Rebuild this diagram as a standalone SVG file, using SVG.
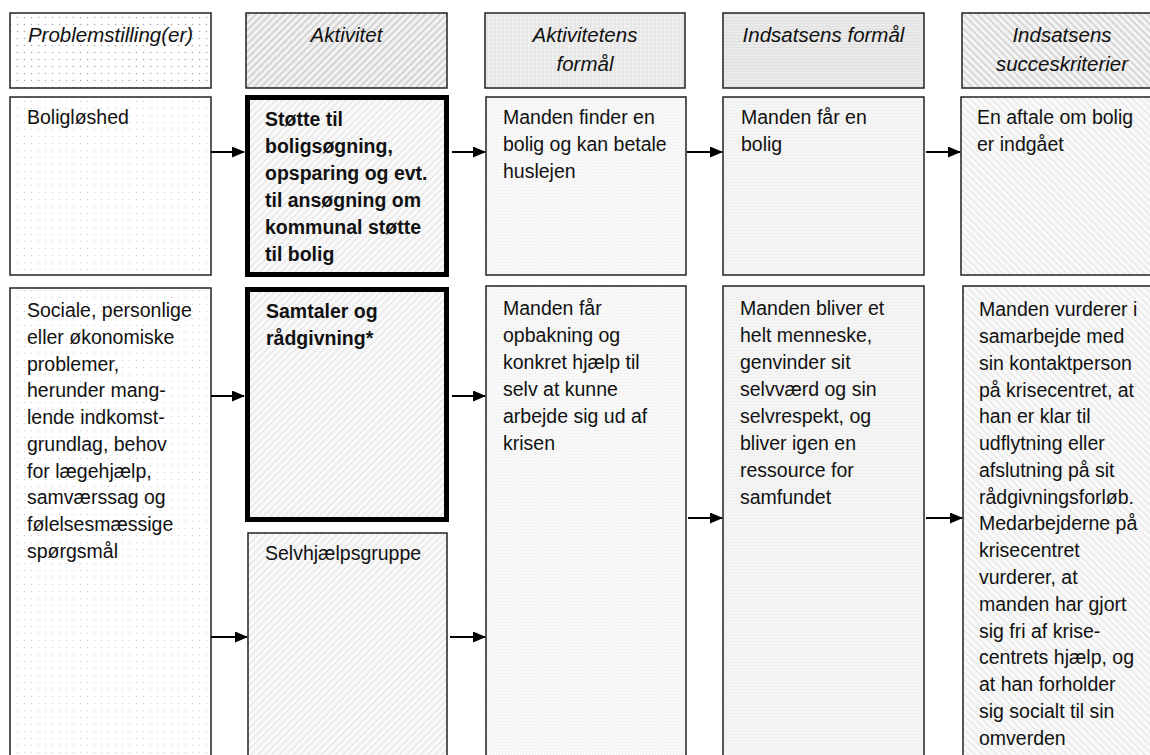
<svg xmlns="http://www.w3.org/2000/svg" width="1150" height="755" viewBox="0 0 1150 755">
<style>
.box{stroke:#222;stroke-width:1.5}
.thick{stroke:#000;stroke-width:5}
.hd{font-family:"Liberation Sans",Arial,sans-serif;font-size:20.5px;font-style:italic;fill:#111;text-anchor:middle}
.tx{font-family:"Liberation Sans",Arial,sans-serif;font-size:19.5px;fill:#111}
.bd{font-weight:bold}
.conn line{stroke:#000;stroke-width:2}
</style>
<defs>
<pattern id="dotsH" width="7" height="7" patternUnits="userSpaceOnUse"><rect width="7" height="7" fill="#fff"/><circle cx="3.5" cy="3.5" r="0.8" fill="#aaa"/></pattern>
<pattern id="dotsB" width="7" height="7" patternUnits="userSpaceOnUse"><rect width="7" height="7" fill="#fff"/><circle cx="3.5" cy="3.5" r="0.7" fill="#d4d4d4"/></pattern>
<pattern id="fwdH" width="5" height="5" patternUnits="userSpaceOnUse" patternTransform="rotate(45)"><rect width="5" height="5" fill="#f2f2f2"/><line x1="1" y1="0" x2="1" y2="5" stroke="#c4c4c4" stroke-width="1.3"/></pattern>
<pattern id="fwdB" width="5" height="5" patternUnits="userSpaceOnUse" patternTransform="rotate(45)"><rect width="5" height="5" fill="#fafafa"/><line x1="1" y1="0" x2="1" y2="5" stroke="#e2e2e2" stroke-width="1.2"/></pattern>
<pattern id="gridH" width="4" height="4" patternUnits="userSpaceOnUse"><rect width="4" height="4" fill="#e4e4e4"/><line x1="1" y1="0" x2="1" y2="4" stroke="#f6f6f6" stroke-width="1"/><line x1="0" y1="2" x2="4" y2="2" stroke="#f2f2f2" stroke-width="0.8"/></pattern>
<pattern id="gridB" width="3" height="3" patternUnits="userSpaceOnUse"><rect width="3" height="3" fill="#f8f8f8"/><rect x="1" y="1" width="1" height="1" fill="#ececec"/></pattern>
<pattern id="horH" width="4" height="3" patternUnits="userSpaceOnUse"><rect width="4" height="3" fill="#e0e0e0"/><line x1="0" y1="1" x2="4" y2="1" stroke="#f4f4f4" stroke-width="1"/></pattern>
<pattern id="horB" width="4" height="3" patternUnits="userSpaceOnUse"><rect width="4" height="3" fill="#f0f0f0"/><line x1="0" y1="1" x2="4" y2="1" stroke="#fafafa" stroke-width="1"/></pattern>
<pattern id="bakH" width="5" height="5" patternUnits="userSpaceOnUse" patternTransform="rotate(-45)"><rect width="5" height="5" fill="#f4f4f4"/><line x1="1" y1="0" x2="1" y2="5" stroke="#c8c8c8" stroke-width="1.3"/></pattern>
<pattern id="bakB" width="5" height="5" patternUnits="userSpaceOnUse" patternTransform="rotate(-45)"><rect width="5" height="5" fill="#fafafa"/><line x1="1" y1="0" x2="1" y2="5" stroke="#e4e4e4" stroke-width="1.2"/></pattern>
<marker id="ah" markerUnits="userSpaceOnUse" markerWidth="13" markerHeight="11" refX="12" refY="5.5" orient="auto"><path d="M0,0 L13,5.5 L0,11 z" fill="#000"/></marker>
</defs>
<rect width="1150" height="755" fill="#fff"/>

<g id="h1"><rect class="box" x="10" y="13" width="201" height="75" fill="url(#dotsH)"/><text class="hd" x="110.5" y="42">Problemstilling(er)</text></g>
<g id="h2"><rect class="box" x="246" y="13" width="201" height="75" fill="url(#fwdH)"/><text class="hd" x="346.5" y="42">Aktivitet</text></g>
<g id="h3"><rect class="box" x="485" y="13" width="200" height="75" fill="url(#gridH)"/><text class="hd" x="585" y="42">Aktivitetens</text><text class="hd" x="585" y="71">formål</text></g>
<g id="h4"><rect class="box" x="723" y="13" width="201" height="75" fill="url(#horH)"/><text class="hd" x="823.5" y="42">Indsatsens formål</text></g>
<g id="h5"><rect class="box" x="962" y="13" width="201" height="75" fill="url(#bakH)"/><text class="hd" x="1062" y="42">Indsatsens</text><text class="hd" x="1062" y="71">succeskriterier</text></g>

<g id="r1c1"><rect class="box" x="10" y="97" width="201" height="178" fill="url(#dotsB)"/><text class="tx" x="27" y="124">Boligløshed</text></g>
<g id="r1c2"><rect class="thick" x="247.5" y="97.5" width="199" height="177" fill="url(#fwdB)"/><text class="tx bd" x="265"><tspan x="265" y="126">Støtte til</tspan><tspan x="265" y="153">boligsøgning,</tspan><tspan x="265" y="180">opsparing og evt.</tspan><tspan x="265" y="207">til ansøgning om</tspan><tspan x="265" y="234">kommunal støtte</tspan><tspan x="265" y="261">til bolig</tspan></text></g>
<g id="r1c3"><rect class="box" x="486" y="97" width="200" height="178" fill="url(#gridB)"/><text class="tx"><tspan x="503" y="124">Manden finder en</tspan><tspan x="503" y="151">bolig og kan betale</tspan><tspan x="503" y="178">huslejen</tspan></text></g>
<g id="r1c4"><rect class="box" x="723" y="97" width="201" height="178" fill="url(#horB)"/><text class="tx"><tspan x="741" y="124">Manden får en</tspan><tspan x="741" y="151">bolig</tspan></text></g>
<g id="r1c5"><rect class="box" x="961" y="97" width="202" height="178" fill="url(#bakB)"/><text class="tx"><tspan x="977" y="124">En aftale om bolig</tspan><tspan x="977" y="151">er indgået</tspan></text></g>

<g id="r2c1"><rect class="box" x="10" y="288" width="201" height="480" fill="url(#dotsB)"/><text class="tx"><tspan x="27" y="317">Sociale, personlige</tspan><tspan x="27" y="344">eller økonomiske</tspan><tspan x="27" y="370.5">problemer,</tspan><tspan x="27" y="397">herunder mang-</tspan><tspan x="27" y="424">lende indkomst-</tspan><tspan x="27" y="451">grundlag, behov</tspan><tspan x="27" y="477.5">for lægehjælp,</tspan><tspan x="27" y="504">samværssag og</tspan><tspan x="27" y="531">følelsesmæssige</tspan><tspan x="27" y="558">spørgsmål</tspan></text></g>
<g id="r2c2"><rect class="thick" x="247.5" y="289.5" width="199" height="230" fill="url(#fwdB)"/><text class="tx bd"><tspan x="266" y="318">Samtaler og</tspan><tspan x="266" y="345">rådgivning*</tspan></text></g>
<g id="r2c2b"><rect class="box" x="248" y="533" width="199" height="240" fill="url(#fwdB)"/><text class="tx" x="265" y="560">Selvhjælpsgruppe</text></g>
<g id="r2c3"><rect class="box" x="486" y="286" width="200" height="480" fill="url(#gridB)"/><text class="tx"><tspan x="503" y="315">Manden får</tspan><tspan x="503" y="342">opbakning og</tspan><tspan x="503" y="369">konkret hjælp til</tspan><tspan x="503" y="396">selv at kunne</tspan><tspan x="503" y="423">arbejde sig ud af</tspan><tspan x="503" y="450">krisen</tspan></text></g>
<g id="r2c4"><rect class="box" x="723" y="286" width="201" height="480" fill="url(#horB)"/><text class="tx"><tspan x="740" y="315">Manden bliver et</tspan><tspan x="740" y="342">helt menneske,</tspan><tspan x="740" y="369">genvinder sit</tspan><tspan x="740" y="396">selvværd og sin</tspan><tspan x="740" y="423">selvrespekt, og</tspan><tspan x="740" y="450">bliver igen en</tspan><tspan x="740" y="477">ressource for</tspan><tspan x="740" y="504">samfundet</tspan></text></g>
<g id="r2c5"><rect class="box" x="963" y="286" width="200" height="480" fill="url(#bakB)"/><text class="tx"><tspan x="979" y="316">Manden vurderer i</tspan><tspan x="979" y="343">samarbejde med</tspan><tspan x="979" y="370">sin kontaktperson</tspan><tspan x="979" y="396.5">på krisecentret, at</tspan><tspan x="979" y="423">han er klar til</tspan><tspan x="979" y="450">udflytning eller</tspan><tspan x="979" y="477">afslutning på sit</tspan><tspan x="979" y="503.5">rådgivningsforløb.</tspan><tspan x="979" y="530">Medarbejderne på</tspan><tspan x="979" y="557">krisecentret</tspan><tspan x="979" y="584">vurderer, at</tspan><tspan x="979" y="611">manden har gjort</tspan><tspan x="979" y="637.5">sig fri af krise-</tspan><tspan x="979" y="664">centrets hjælp, og</tspan><tspan x="979" y="691">at han forholder</tspan><tspan x="979" y="718">sig socialt til sin</tspan><tspan x="979" y="745">omverden</tspan></text></g>

<g id="connectors" class="conn">
<line x1="211" y1="152" x2="244" y2="152" marker-end="url(#ah)"/>
<line x1="452" y1="152" x2="485" y2="152" marker-end="url(#ah)"/>
<line x1="687" y1="152" x2="722" y2="152" marker-end="url(#ah)"/>
<line x1="926" y1="152" x2="960" y2="152" marker-end="url(#ah)"/>
<line x1="211" y1="396" x2="244" y2="396" marker-end="url(#ah)"/>
<line x1="452" y1="396" x2="485" y2="396" marker-end="url(#ah)"/>
<line x1="688" y1="518" x2="722" y2="518" marker-end="url(#ah)"/>
<line x1="926" y1="518" x2="962" y2="518" marker-end="url(#ah)"/>
<line x1="211" y1="637" x2="247" y2="637" marker-end="url(#ah)"/>
<line x1="450" y1="637" x2="485" y2="637" marker-end="url(#ah)"/>
</g>
</svg>
